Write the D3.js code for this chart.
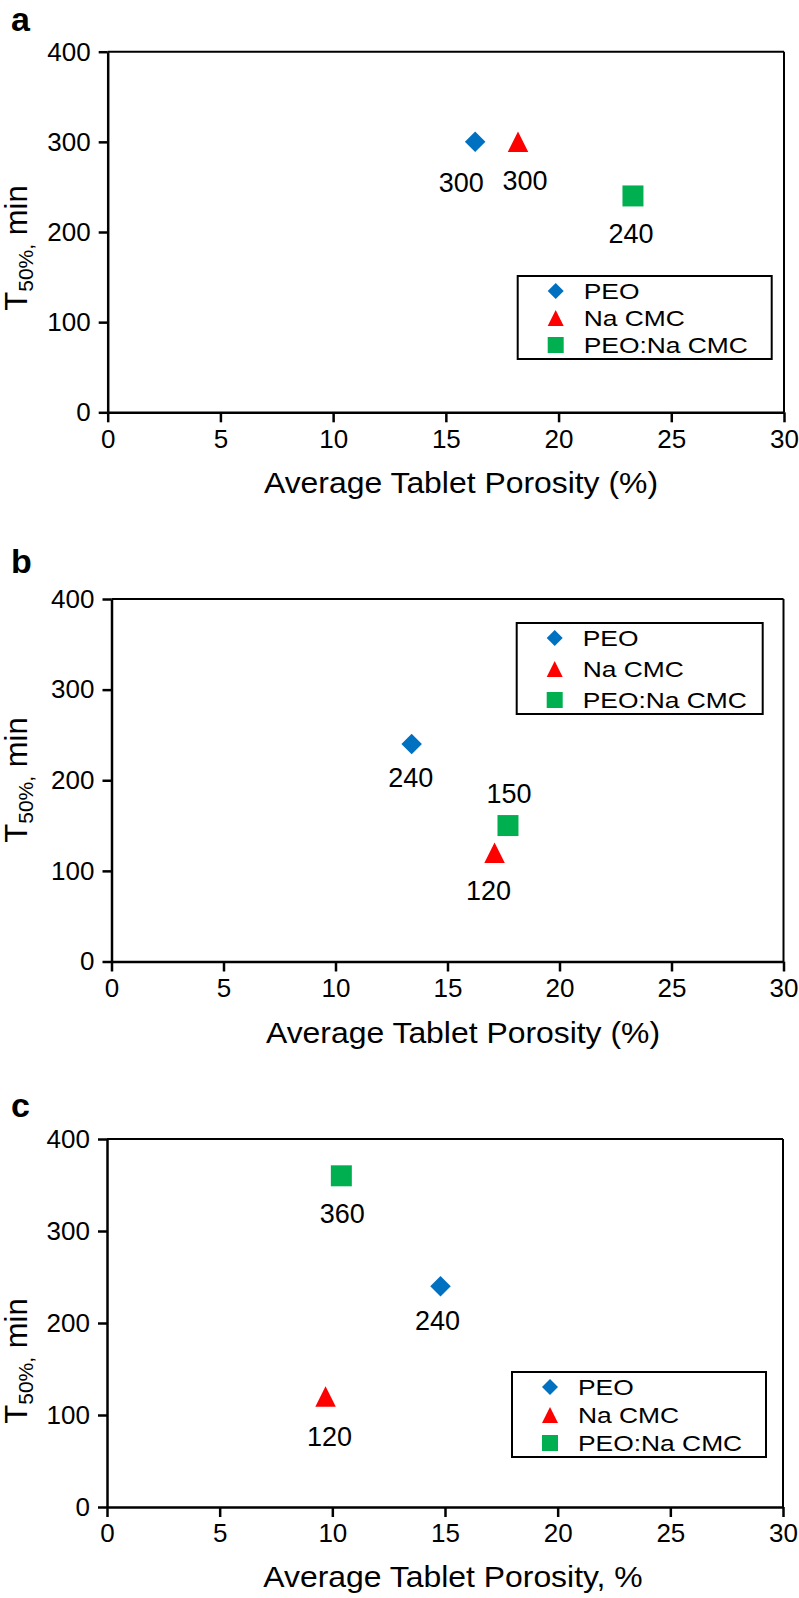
<!DOCTYPE html>
<html lang="en">
<head>
<meta charset="UTF-8">
<title>T50% vs Average Tablet Porosity</title>
<script src="https://d3js.org/d3.v7.min.js"></script>
<style>
  body { margin: 0; background: white; }
  svg { display: block; font-family: "Liberation Sans", Arial, sans-serif; }
  .tick text { font-size: 26px; fill: #000; font-family: "Liberation Sans", Arial, sans-serif; }
  .domain, .tick line { stroke: #000; stroke-width: 2.5px; }
  .frame { stroke: #000; stroke-width: 2px; }
</style>
</head>
<body>
<script>
// series shared by the three panels
const seriesNames = ["PEO", "Na CMC", "PEO:Na CMC"];
const seriesColors = ["#0070c0", "#ff0000", "#00b050"];
const seriesShapes = ["diamond", "triangle", "square"];

// panel a
const porosityA = [16.3, 18.2, 23.3];
const t50A = [300, 300, 240];
// panel b
const porosityB = [13.4, 17.1, 17.7];
const t50B = [240, 120, 150];
// panel c
const porosityC = [14.8, 9.7, 10.4];
const t50C = [240, 120, 360];

const xTicks = [0, 5, 10, 15, 20, 25, 30];
const yTicks = [0, 100, 200, 300, 400];

// page layout for each panel (pixels)
const layout = [
  {letter: "a", letterY: 31, left: 107.7, right: 784, top: 51.7, bottom: 412.3,
   xTitle: "Average Tablet Porosity (%)", titleX: 461, titleY: 493, yTitleY: 248,
   legend: {x: 517.7, y: 276, w: 254, h: 83},
   labelShift: [[-14, 50], [7, 48], [-2, 47]]},
  {letter: "b", letterY: 573, left: 111.5, right: 783.5, top: 599, bottom: 961.5,
   xTitle: "Average Tablet Porosity (%)", titleX: 463, titleY: 1043, yTitleY: 780,
   legend: {x: 516.7, y: 623, w: 246, h: 91},
   labelShift: [[-1, 43], [-6, 47], [1, -23]]},
  {letter: "c", letterY: 1117, left: 107, right: 783, top: 1139, bottom: 1507,
   xTitle: "Average Tablet Porosity, %", titleX: 453, titleY: 1587, yTitleY: 1361,
   legend: {x: 512, y: 1372, w: 254, h: 85},
   labelShift: [[-3, 44], [4, 49], [1, 47]]}
];
const panelData = [[porosityA, t50A], [porosityB, t50B], [porosityC, t50C]];

function markerPath(shape, s) {
  const h = s / 2;
  if (shape === "diamond") return `M0,${-h}L${h},0L0,${h}L${-h},0Z`;
  if (shape === "triangle") return `M0,${-h}L${h},${h}L${-h},${h}Z`;
  return `M${-h},${-h}H${h}V${h}H${-h}Z`;
}

const svg = d3.select("body").append("svg")
  .attr("width", 799)
  .attr("height", 1598);

layout.forEach((L, p) => {
  const [xs, ys] = panelData[p];
  const points = seriesNames.map((name, i) => ({name, i, x: xs[i], y: ys[i]}));

  const x = d3.scaleLinear().domain([0, 30]).range([L.left, L.right]);
  const y = d3.scaleLinear().domain([0, 400]).range([L.bottom, L.top]);

  const g = svg.append("g");

  // top and right frame
  g.append("line").attr("class", "frame")
    .attr("x1", L.left).attr("x2", L.right).attr("y1", L.top).attr("y2", L.top);
  g.append("line").attr("class", "frame")
    .attr("x1", L.right).attr("x2", L.right).attr("y1", L.top).attr("y2", L.bottom);

  g.append("g")
    .attr("transform", `translate(0,${L.bottom})`)
    .call(d3.axisBottom(x).tickValues(xTicks).tickSize(10).tickSizeOuter(0).tickPadding(7));

  g.append("g")
    .attr("transform", `translate(${L.left},0)`)
    .call(d3.axisLeft(y).tickValues(yTicks).tickSize(9).tickSizeOuter(0).tickPadding(8));

  // panel letter
  g.append("text")
    .attr("x", 11).attr("y", L.letterY)
    .attr("font-size", 34).attr("font-weight", "bold")
    .text(L.letter);

  // x axis title
  g.append("text")
    .attr("transform", `translate(${L.titleX},${L.titleY}) scale(1.1,1)`)
    .attr("text-anchor", "middle")
    .attr("font-size", 29)
    .text(L.xTitle);

  // y axis title
  const yt = g.append("text")
    .attr("transform", `translate(27,${L.yTitleY}) rotate(-90)`)
    .attr("text-anchor", "middle")
    .attr("font-size", 31);
  yt.append("tspan").text("T");
  yt.append("tspan").attr("font-size", 21).attr("dy", 6).text("50%,");
  yt.append("tspan").attr("dy", -6).text(" min");

  // points
  g.selectAll(".pt")
    .data(points)
    .join("path")
    .attr("class", "pt")
    .attr("transform", d => `translate(${x(d.x)},${y(d.y)})`)
    .attr("d", d => markerPath(seriesShapes[d.i], d.i === 2 ? 21 : 20.5))
    .attr("fill", d => seriesColors[d.i]);

  // value labels
  g.selectAll(".lbl")
    .data(points)
    .join("text")
    .attr("class", "lbl")
    .attr("x", d => x(d.x) + L.labelShift[d.i][0])
    .attr("y", d => y(d.y) + L.labelShift[d.i][1])
    .attr("text-anchor", "middle")
    .attr("font-size", 27)
    .text(d => d.y);

  // legend
  const lg = g.append("g").attr("transform", `translate(${L.legend.x},${L.legend.y})`);
  lg.append("rect")
    .attr("width", L.legend.w).attr("height", L.legend.h)
    .attr("fill", "white").attr("stroke", "#000").attr("stroke-width", 2);
  const step = (L.legend.h - 29) / 2;
  const rows = lg.selectAll(".row")
    .data(seriesNames)
    .join("g")
    .attr("class", "row")
    .attr("transform", (d, i) => `translate(0,${23 + i * step})`);
  rows.append("path")
    .attr("transform", "translate(38,-8)")
    .attr("d", (d, i) => markerPath(seriesShapes[i], 16))
    .attr("fill", (d, i) => seriesColors[i]);
  rows.append("text")
    .attr("transform", "translate(66,0) scale(1.2,1)")
    .attr("font-size", 22)
    .text(d => d);
});
</script>
</body>
</html>
